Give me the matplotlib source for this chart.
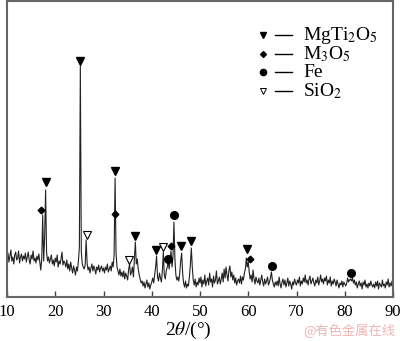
import numpy as np
import matplotlib
matplotlib.use("Agg")
import matplotlib.pyplot as plt

plt.rcParams['font.family'] = ['Liberation Serif', 'DejaVu Serif']
plt.rcParams['mathtext.fontset'] = 'stix'

# XRD pattern: 2-theta from 10 to 90 deg in 0.2 deg steps (arbitrary intensity units)
two_theta_start = 10.0
two_theta_step = 0.2
intensity = [
    38, 44, 35, 41, 47, 36, 40, 33, 42, 45, 37, 39, 46, 34, 40, 43, 36, 41, 38, 44,
    35, 40, 45, 37, 33, 42, 38, 46, 36, 39, 34, 41, 37, 43, 35, 27, 38, 82, 36, 60,
    107, 45, 36, 40, 34, 38, 42, 33, 37, 31, 39, 35, 42, 30, 36, 33, 38, 45, 32, 36,
    34, 30, 37, 28, 33, 26, 35, 29, 24, 31, 27, 22, 30, 26, 36, 50, 231, 45, 33, 30,
    28, 32, 57, 34, 27, 30, 24, 29, 33, 26, 31, 28, 23, 30, 27, 32, 25, 29, 31, 26,
    29, 24, 30, 27, 33, 25, 28, 31, 26, 35, 30, 42, 119, 44, 30, 26, 22, 28, 21, 25,
    20, 26, 18, 24, 21, 17, 27, 33, 22, 25, 30, 20, 38, 55, 33, 38, 28, 22, 18, 14,
    16, 11, 15, 9, 13, 17, 10, 14, 8, 12, 15, 19, 14, 22, 30, 41, 20, 16, 24, 19,
    15, 26, 45, 22, 18, 26, 30, 36, 28, 38, 46, 30, 40, 75, 38, 22, 17, 20, 16, 24,
    36, 44, 24, 14, 10, 16, 9, 13, 11, 20, 32, 49, 30, 17, 12, 18, 10, 15, 12, 19,
    14, 20, 10, 17, 13, 22, 11, 16, 19, 12, 24, 15, 18, 10, 21, 14, 17, 26, 13, 16,
    20, 13, 18, 24, 15, 28, 19, 30, 22, 16, 27, 31, 20, 25, 17, 22, 14, 19, 12, 16,
    18, 14, 21, 13, 20, 17, 24, 28, 39, 30, 35, 25, 18, 22, 15, 27, 18, 13, 20, 16,
    14, 19, 12, 17, 22, 15, 11, 18, 13, 16, 20, 12, 15, 19, 25, 17, 13, 10, 15, 12,
    16, 11, 20, 13, 9, 15, 18, 12, 17, 10, 14, 19, 11, 16, 13, 8, 15, 12, 18, 14,
    12, 17, 14, 20, 11, 16, 13, 19, 15, 22, 14, 17, 12, 18, 21, 13, 16, 19, 14, 11,
    17, 14, 20, 12, 16, 22, 15, 18, 13, 19, 16, 21, 12, 17, 14, 20, 11, 16, 13, 18,
    15, 11, 17, 13, 9, 14, 12, 16, 10, 15, 13, 11, 14, 19, 15, 17, 18, 16, 19, 14,
    17, 12, 15, 9, 13, 16, 11, 14, 8, 15, 12, 17, 10, 13, 9, 14, 11, 16, 12, 10,
    13, 9, 15, 11, 16, 8, 14, 12, 10, 17, 11, 13, 9, 15, 12, 18, 10, 14, 11, 16, 12,
]
two_theta = two_theta_start + two_theta_step * np.arange(len(intensity))

# Phase markers: (2-theta, marker height)
mgti2o5_pos = [18.0, 25.2, 32.4, 36.6, 40.9, 46.1, 48.2, 59.7]
mgti2o5_h = [115, 236, 126, 61, 47, 51, 56, 48]
m3o5_pos = [17.1, 32.3, 44.0, 60.4]
m3o5_h = [87, 83, 51, 38]
fe_pos = [43.4, 44.6, 64.9, 81.3]
fe_h = [38, 82, 31, 24]
sio2_pos = [26.5, 35.3, 42.3]
sio2_h = [62, 37, 50]

phase_labels = ['MgTi$_2$O$_5$', 'M$_3$O$_5$', 'Fe', 'SiO$_2$']
x_ticks = [10, 20, 30, 40, 50, 60, 70, 80, 90]

fig = plt.figure(figsize=(4.0, 3.41), dpi=100)
ax = fig.add_axes([0.0175, 0.129, 0.965, 0.868])

ax.plot(two_theta, intensity, color='#222222', lw=0.8)

mk = dict(color='black', linestyle='none')
ax.plot(mgti2o5_pos, mgti2o5_h, marker='v', ms=5.5, **mk)
ax.plot(m3o5_pos, m3o5_h, marker='D', ms=3.4, **mk)
ax.plot(fe_pos, fe_h, marker='o', ms=5.5, **mk)
ax.plot(sio2_pos, sio2_h, marker='v', ms=5.5, markerfacecolor='white',
        markeredgecolor='black', markeredgewidth=0.8, linestyle='none')

# Key in the upper right
styles = [dict(marker='v', ms=4.5, color='black'),
          dict(marker='D', ms=3, color='black'),
          dict(marker='o', ms=4.5, color='black'),
          dict(marker='v', ms=4.5, markerfacecolor='white', markeredgecolor='black',
               markeredgewidth=0.7)]
rows = [0.885, 0.821, 0.760, 0.696]
for st, yy, lab in zip(styles, rows, phase_labels):
    ax.plot([0.663], [yy], transform=ax.transAxes, linestyle='none', **st)
    ax.plot([0.694, 0.738], [yy, yy], transform=ax.transAxes, color='black', lw=1.0)
    ax.text(0.767, yy, lab, transform=ax.transAxes, fontsize=14,
            va='center', ha='left')

ax.set_xlim(10, 90)
ax.set_ylim(0, 296)
ax.set_xticks(x_ticks)
ax.set_yticks([])
ax.tick_params(axis='x', direction='in', length=4, width=1, color='#444444',
               labelsize=12, pad=5)
for s in ax.spines.values():
    s.set_color('#666666')
    s.set_linewidth(1.5)

fig.text(0.47, 0.03, r'2$\it{\theta}$/(°)', ha='center', va='center', fontsize=14)
fig.text(0.988, 0.03, '@有色金属在线', ha='right', va='center', fontsize=9.5,
         color='#f2b4b4', family=['Noto Sans CJK SC', 'DejaVu Sans'])

fig.savefig('out.png', dpi=100)
